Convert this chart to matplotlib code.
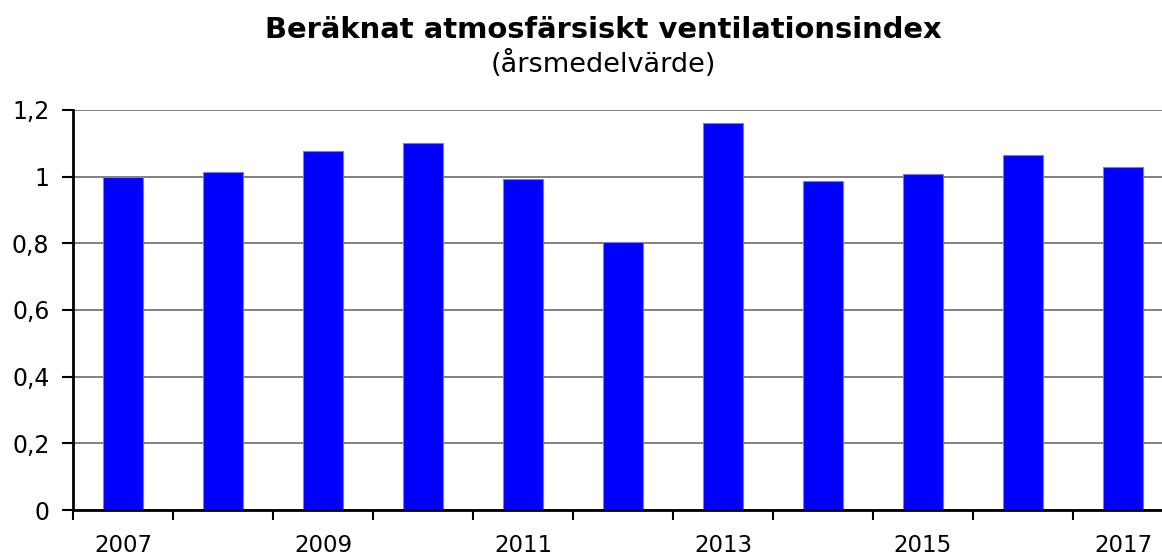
import matplotlib
matplotlib.use("Agg")
import matplotlib.pyplot as plt
from matplotlib.ticker import FixedLocator, FixedFormatter

years = ["2007", "2008", "2009", "2010", "2011", "2012", "2013", "2014", "2015", "2016", "2017"]
values = [1.000, 1.014, 1.077, 1.100, 0.993, 0.803, 1.161, 0.987, 1.007, 1.066, 1.030]
yticks = [0, 0.2, 0.4, 0.6, 0.8, 1.0, 1.2]
ytick_labels = ["0", "0,2", "0,4", "0,6", "0,8", "1", "1,2"]
title = "Beräknat atmosfärsiskt ventilationsindex"
subtitle = "(årsmedelvärde)"

plt.rcParams['font.family'] = ['DejaVu Sans']

fig = plt.figure(figsize=(11.62, 5.55), dpi=100)
ax = fig.add_axes([73/1162, 45/555, 1 - 73/1162, 400/555])

x = list(range(len(years)))
ax.bar(x, values, width=0.4, color="#0000ff", edgecolor="#7777ff", linewidth=0.8, zorder=3)

ax.set_ylim(0, 1.2)
ax.set_xlim(-0.5, 10.39)

ax.yaxis.set_major_locator(FixedLocator(yticks))
ax.yaxis.set_major_formatter(FixedFormatter(ytick_labels))
ax.grid(axis='y', color="#808080", linewidth=1.4, zorder=0)
ax.set_axisbelow(True)

# x: tick marks at category boundaries, labels at centres (every other year)
ax.xaxis.set_major_locator(FixedLocator([i - 0.5 for i in range(len(years) + 1)]))
ax.xaxis.set_major_formatter(FixedFormatter([""] * (len(years) + 1)))
ax.xaxis.set_minor_locator(FixedLocator(x))
ax.xaxis.set_minor_formatter(FixedFormatter([y if i % 2 == 0 else "" for i, y in enumerate(years)]))
ax.tick_params(axis='x', which='major', direction='out', length=7, width=1.5, color='black')
ax.tick_params(axis='x', which='minor', length=0, pad=17, labelsize=16.5)
ax.tick_params(axis='y', which='major', direction='out', length=8, width=1.5, pad=9, labelsize=17)

for s in ['top', 'right']:
    ax.spines[s].set_visible(False)
for s in ['left', 'bottom']:
    ax.spines[s].set_linewidth(2)
    ax.spines[s].set_color('black')
    ax.spines[s].set_zorder(4)

fig.text(0.519, 1 - 30/555, title, ha='center', va='center', fontsize=20.9, fontweight='bold')
fig.text(0.519, 1 - 64/555, subtitle, ha='center', va='center', fontsize=19.5)

fig.savefig("out.png", dpi=100)
